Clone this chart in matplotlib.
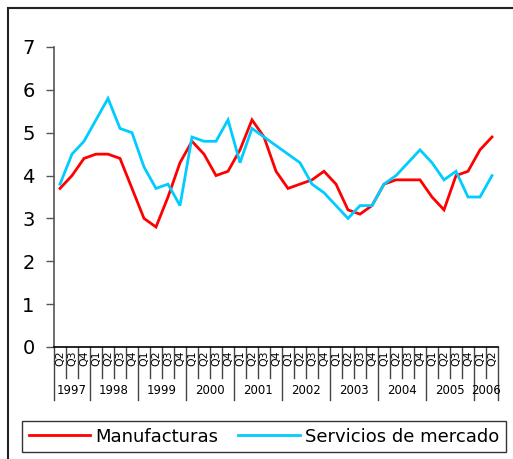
import matplotlib
matplotlib.use("Agg")
import matplotlib.pyplot as plt
from matplotlib.lines import Line2D
from matplotlib.patches import Rectangle
import matplotlib.transforms as mtransforms

# Quarterly series, 1997 Q2 .. 2006 Q2
years = ["1997", "1998", "1999", "2000", "2001", "2002", "2003", "2004", "2005", "2006"]
quarters_per_year = [["Q2", "Q3", "Q4"]] + [["Q1", "Q2", "Q3", "Q4"]] * 8 + [["Q1", "Q2"]]

manufacturas = [3.7, 4.0, 4.4,
                4.5, 4.5, 4.4, 3.7,
                3.0, 2.8, 3.5, 4.3,
                4.8, 4.5, 4.0, 4.1,
                4.6, 5.3, 4.9, 4.1,
                3.7, 3.8, 3.9, 4.1,
                3.8, 3.2, 3.1, 3.3,
                3.8, 3.9, 3.9, 3.9,
                3.5, 3.2, 4.0, 4.1,
                4.6, 4.9]

servicios = [3.8, 4.5, 4.8,
             5.3, 5.8, 5.1, 5.0,
             4.2, 3.7, 3.8, 3.3,
             4.9, 4.8, 4.8, 5.3,
             4.3, 5.1, 4.9, 4.7,
             4.5, 4.3, 3.8, 3.6,
             3.3, 3.0, 3.3, 3.3,
             3.8, 4.0, 4.3, 4.6,
             4.3, 3.9, 4.1, 3.5,
             3.5, 4.0]

series_names = ["Manufacturas", "Servicios de mercado"]
series_colors = ["#FF0000", "#00CCFF"]

quarter_labels = [q for qs in quarters_per_year for q in qs]
n = len(quarter_labels)
x = list(range(n))

W, H = 513, 459
fig = plt.figure(figsize=(W / 100, H / 100), dpi=100)
plt.rcParams["font.family"] = ["DejaVu Sans"]

ax_left, ax_right, ax_top, ax_bot = 54, 498, 47, 347
ax = fig.add_axes([ax_left / W, 1 - ax_bot / H, (ax_right - ax_left) / W, (ax_bot - ax_top) / H])

l1, = ax.plot(x, manufacturas, color=series_colors[0], lw=2, solid_joinstyle="miter")
l2, = ax.plot(x, servicios, color=series_colors[1], lw=2, solid_joinstyle="miter")

ax.set_xlim(-0.5, n - 0.5)
ax.set_ylim(0, 7)
ax.set_yticks(range(0, 8))
ax.tick_params(axis="y", labelsize=14, length=6, width=1, color="#555555", pad=8)
ax.set_xticks([])
for s in ["top", "right"]:
    ax.spines[s].set_visible(False)
ax.spines["left"].set_color("#555555")
ax.spines["bottom"].set_color("black")
ax.spines["left"].set_linewidth(1.2)
ax.spines["bottom"].set_linewidth(1.2)

# Category axis: quarter labels, quarter dividers and year dividers
trans = mtransforms.blended_transform_factory(ax.transData, ax.transAxes)
px = 1.0 / (ax_bot - ax_top)  # one pixel in axes units (vertical)
q_len = 31 * px
y_len = 53 * px
for i, q in enumerate(quarter_labels):
    ax.text(i, -3 * px, q, rotation=90, ha="center", va="top", fontsize=7.8,
            transform=trans, clip_on=False)

bounds = [0]
for qs in quarters_per_year:
    bounds.append(bounds[-1] + len(qs))
for i in range(n + 1):
    is_year = i in bounds
    ax.add_line(Line2D([i - 0.5, i - 0.5], [0, -(y_len if is_year else q_len)],
                       transform=trans, color="#444444", lw=1, clip_on=False))
for yr, a, b in zip(years, bounds[:-1], bounds[1:]):
    ax.text((a + b - 1) / 2, -43 * px, yr, ha="center", va="center", fontsize=8.5,
            transform=trans, clip_on=False)

# Outer chart border
fig.add_artist(Rectangle((8 / W, -0.1), 1.2, 1 - 8 / H + 0.1, transform=fig.transFigure,
                         fill=False, edgecolor="#222222", lw=1.5, clip_on=False))

leg = fig.legend([l1, l2], series_names, loc="center", ncol=2,
                 bbox_to_anchor=(264 / W, 1 - 436.5 / H), fontsize=13,
                 frameon=True, fancybox=False, edgecolor="black", handlelength=3.4,
                 handletextpad=0.3, columnspacing=1.1, borderpad=0.35,
                 borderaxespad=0)
leg.get_frame().set_linewidth(1.0)

fig.savefig("out.png", dpi=100)
